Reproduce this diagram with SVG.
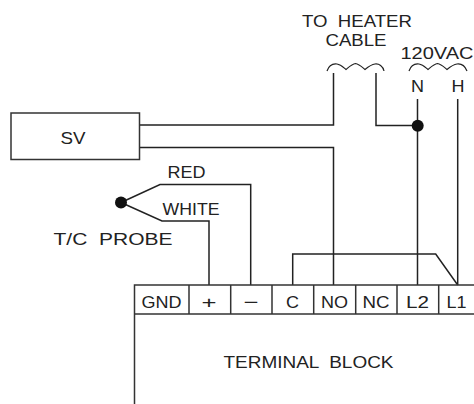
<svg xmlns="http://www.w3.org/2000/svg" width="474" height="404" viewBox="0 0 474 404">
<style>
.w{fill:none;stroke:#222;stroke-width:1.5}
.b{fill:none;stroke:#333;stroke-width:1.5}
.s{fill:none;stroke:#222;stroke-width:1.2}
text{font-family:"Liberation Sans",Arial,sans-serif;font-size:17px;fill:#222;text-anchor:middle}
</style>
<rect width="474" height="404" fill="#fff"/>
<g id="connectors">
<path class="w" d="M140 125H333.500V73"/>
<path class="w" d="M140 147.500H333.500V285"/>
<path class="w" d="M376 73V125.500H418"/>
<path class="w" d="M417.500 99V285"/>
<path class="w" d="M457.700 99V285"/>
<path class="w" d="M121 202.500L160 184.500H250.700V285"/>
<path class="w" d="M121 202.500L162 221H209V285"/>
<path class="w" d="M292.700 285V254H435.700L457.700 285"/>
<path class="s" d="M327 71C329 65 333 63.500 337 64C341 64.500 343 67 346 69.500C349 67 352 64 355.500 63.500C359 64 362 67 365 69.500C368 67 371 64.500 375 64C379 63.500 383 66 384 71"/>
<path class="s" d="M409 71C411 65 415 63.500 419 64C423 64.500 425 67 428 69.500C431 67 434 64 437.500 63.500C441 64 444 67 447 69.500C450 67 453 64.500 457 64C461 63.500 465 66 467 71"/>
<circle cx="417.700" cy="125.700" r="6" fill="#111"/>
<circle cx="121" cy="202.500" r="6" fill="#111"/>
</g>
<g id="sv"><rect class="b" x="11" y="113" width="128.500" height="46.500"/><text x="73" y="144.300" textLength="25" lengthAdjust="spacingAndGlyphs">SV</text></g>
<g id="terminal-block">
<path class="b" d="M134.500 404V285H474M134.500 314H474M189 285V314M230.700 285V314M272 285V314M313.700 285V314M355.700 285V314M397 285V314M438.700 285V314"/>
<text x="161.500" y="308.300" textLength="40" lengthAdjust="spacingAndGlyphs">GND</text><text x="209" y="308.300" textLength="15" lengthAdjust="spacingAndGlyphs">+</text><text x="251" y="308.300" textLength="15" lengthAdjust="spacingAndGlyphs">−</text><text x="292.500" y="308.300" textLength="13" lengthAdjust="spacingAndGlyphs">C</text><text x="334.500" y="308.300" textLength="27" lengthAdjust="spacingAndGlyphs">NO</text><text x="376" y="308.300" textLength="27" lengthAdjust="spacingAndGlyphs">NC</text><text x="417.500" y="308.300" textLength="23" lengthAdjust="spacingAndGlyphs">L2</text><text x="456.500" y="308.300" textLength="20" lengthAdjust="spacingAndGlyphs">L1</text>
<text x="308.500" y="368.300" textLength="170" lengthAdjust="spacingAndGlyphs" xml:space="preserve">TERMINAL  BLOCK</text>
</g>
<g id="labels">
<text x="357" y="26.700" textLength="110" lengthAdjust="spacingAndGlyphs" xml:space="preserve">TO  HEATER</text>
<text x="356" y="46" textLength="61" lengthAdjust="spacingAndGlyphs">CABLE</text>
<text x="437" y="59.300" textLength="73" lengthAdjust="spacingAndGlyphs">120VAC</text>
<text x="417.500" y="91.700" textLength="13" lengthAdjust="spacingAndGlyphs">N</text><text x="458" y="91.700" textLength="13" lengthAdjust="spacingAndGlyphs">H</text>
<text x="186.500" y="178.300" textLength="38" lengthAdjust="spacingAndGlyphs">RED</text>
<text x="191" y="215" textLength="57" lengthAdjust="spacingAndGlyphs">WHITE</text>
<text x="113" y="245" textLength="119" lengthAdjust="spacingAndGlyphs" xml:space="preserve">T/C  PROBE</text>
</g>
</svg>
